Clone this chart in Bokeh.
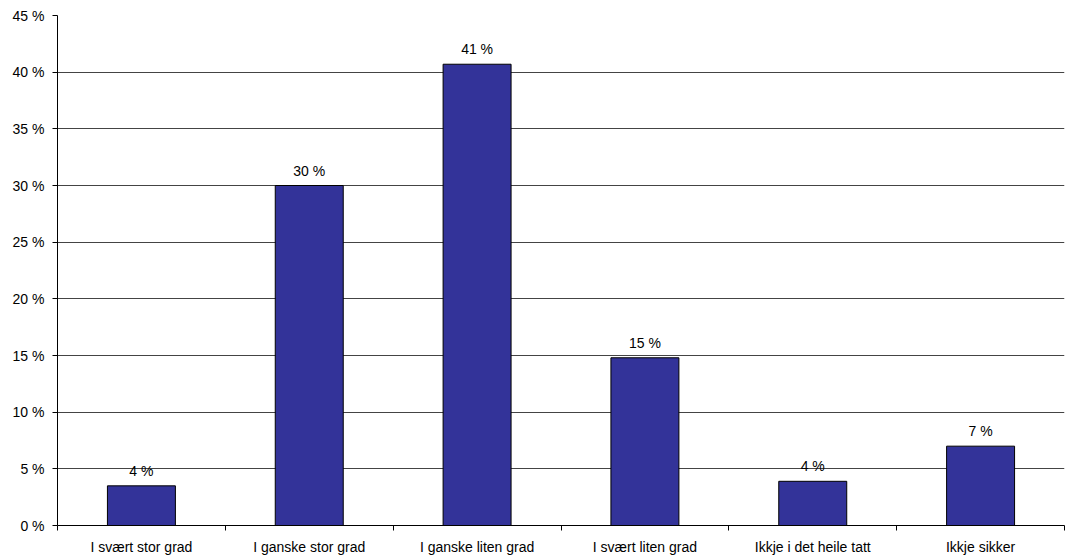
from bokeh.plotting import figure
from bokeh.models import ColumnDataSource, FixedTicker, Range1d, LabelSet
from bokeh.core.properties import value
from bokeh.embed import file_html
from bokeh.resources import INLINE

categories = ["I svært stor grad", "I ganske stor grad", "I ganske liten grad",
              "I svært liten grad", "Ikkje i det heile tatt", "Ikkje sikker"]
values = [3.5, 30.0, 40.7, 14.8, 3.9, 7.0]
labels = ["4 %", "30 %", "41 %", "15 %", "4 %", "7 %"]
y_ticks = [0, 5, 10, 15, 20, 25, 30, 35, 40, 45]

xs = [i + 0.5 for i in range(len(categories))]
src = ColumnDataSource(dict(x=xs, top=values, lab=labels))

FONT = "Liberation Sans"

p = figure(width=1069, height=558, output_backend="svg", toolbar_location=None,
           x_range=Range1d(0, len(categories)), y_range=Range1d(0, 45),
           frame_width=1007, frame_height=510,
           min_border_left=57, min_border_right=5, min_border_top=15, min_border_bottom=33)
p.outline_line_color = None
p.background_fill_color = "white"

p.vbar(x="x", top="top", width=0.405, source=src, fill_color="#333399",
       line_color="black", line_width=1)

p.add_layout(LabelSet(x="x", y="top", text="lab", source=src, text_align="center",
                      text_baseline="bottom", y_offset=7, text_font=value(FONT),
                      text_font_size="14px", text_color="black"))

# y axis
p.yaxis.ticker = FixedTicker(ticks=y_ticks)
p.yaxis.major_label_overrides = {t: f"{t} %" for t in y_ticks}
p.yaxis.major_label_text_font = FONT
p.yaxis.major_label_text_font_size = "14px"
p.yaxis.major_label_text_color = "black"
p.yaxis.major_tick_in = 0
p.yaxis.major_tick_out = 5
p.yaxis.minor_tick_line_color = None
p.yaxis.axis_line_color = "black"
p.yaxis.major_tick_line_color = "black"
p.yaxis.major_label_standoff = 8

# x axis: labels at centers, ticks at boundaries
p.xaxis.ticker = FixedTicker(ticks=xs, minor_ticks=list(range(len(categories) + 1)))
p.xaxis.major_label_overrides = {x: c for x, c in zip(xs, categories)}
p.xaxis.major_label_text_font = FONT
p.xaxis.major_label_text_font_size = "14px"
p.xaxis.major_label_text_color = "black"
p.xaxis.major_tick_in = 0
p.xaxis.major_tick_out = 0
p.xaxis.minor_tick_in = 0
p.xaxis.minor_tick_out = 5
p.xaxis.minor_tick_line_color = "black"
p.xaxis.axis_line_color = "black"
p.xaxis.major_label_standoff = 8

p.xgrid.grid_line_color = None
p.ygrid.grid_line_color = "#444444"
p.ygrid.grid_line_width = 1

open("out.html", "w").write(file_html(p, INLINE))
